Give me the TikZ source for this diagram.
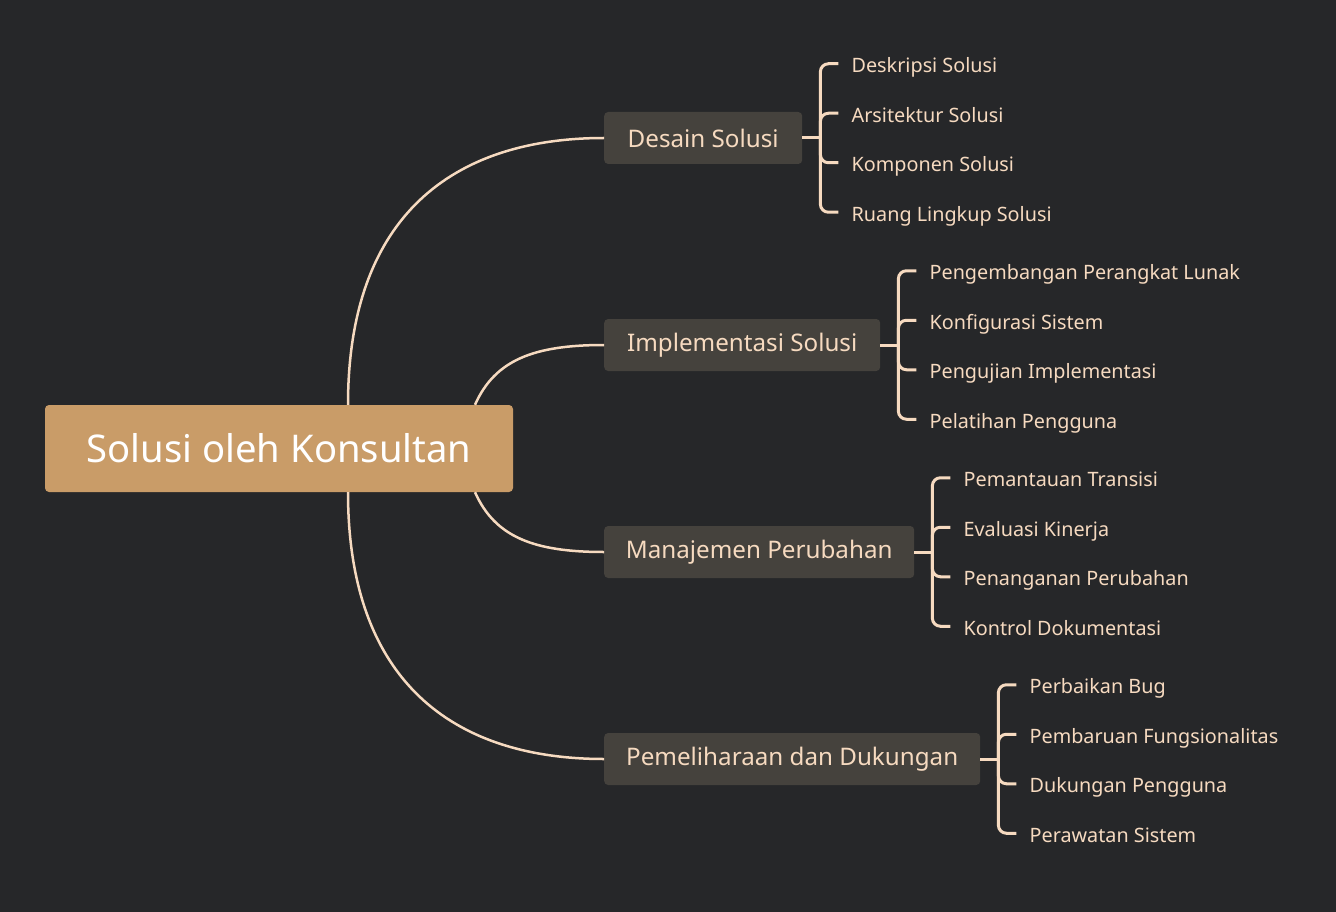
\documentclass[tikz,border=0pt]{standalone}
\usepackage{fontspec}
\setmainfont{Noto Sans}
\usetikzlibrary{positioning,calc}

\definecolor{bgdark}{HTML}{262729}
\definecolor{rootgold}{HTML}{C99C68}
\definecolor{topicgray}{HTML}{45423D}
\definecolor{peach}{HTML}{F6DAC0}

\begin{document}
\begin{tikzpicture}[
        x=1pt, y=-1pt,
        % styles of the map
        root_node/.style={fill=rootgold, rounded corners=4pt, minimum width=468pt, minimum height=87pt, text=white, font=\fontsize{38.2}{44}\selectfont},
        topic_node/.style={fill=topicgray, rounded corners=4pt, minimum height=52pt, inner xsep=19pt, anchor=west, text=peach, font=\fontsize{24.2}{28}\selectfont},
        leaf_node/.style={anchor=west, inner xsep=13pt, inner ysep=0pt, text height=20pt, text depth=2pt, text=peach, font=\fontsize{19.8}{24}\selectfont},
        branch/.style={draw=peach, line width=2.5pt},
        bracket/.style={draw=peach, line width=3pt, rounded corners=8pt}
    ]

    % background and bounding box
    \fill[bgdark] (0,0) rectangle (1336,912);
    \useasboundingbox (0,0) rectangle (1336,912);

    % ==========================================
    % 1. root and topics
    % ==========================================
    \node[root_node] (root) at (279,448.5) {Solusi oleh Konsultan};

    \node[topic_node, minimum width=198pt] (desain) at (604,138) {Desain Solusi};
    \node[topic_node, minimum width=276pt] (impl) at (604,345) {Implementasi Solusi};
    \node[topic_node, minimum width=310pt] (manaj) at (604,552) {Manajemen Perubahan};
    \node[topic_node, minimum width=376pt] (pemel) at (604,759) {Pemeliharaan dan Dukungan};

    % --- curved branches from the root ---
    \draw[branch] ([xshift=69pt]root.north) .. controls +(0,-190) and +(-150,0) .. (desain.west);
    \draw[branch] ([xshift=196pt]root.north) .. controls +(20,-45) and +(-70,0) .. (impl.west);
    \draw[branch] ([xshift=196pt]root.south) .. controls +(20,45) and +(-70,0) .. (manaj.west);
    \draw[branch] ([xshift=69pt]root.south) .. controls +(0,190) and +(-150,0) .. (pemel.west);

    % ==========================================
    % 2. leaves with brackets
    % ==========================================
    \coordinate (desain_j) at ([xshift=18pt]desain.east);
    \draw[bracket] (desain.east) -- (desain_j);
    \foreach \txt [count=\i] in {Deskripsi Solusi, Arsitektur Solusi, Komponen Solusi, Ruang Lingkup Solusi} {
        \node[leaf_node] (desain\i) at ([xshift=36pt, yshift={(2.5-\i)*49.5pt}]desain.east) {\txt};
        \draw[bracket] (desain_j) |- (desain\i.west);
    }

    \coordinate (impl_j) at ([xshift=18pt]impl.east);
    \draw[bracket] (impl.east) -- (impl_j);
    \foreach \txt [count=\i] in {Pengembangan Perangkat Lunak, Konfigurasi Sistem, Pengujian Implementasi, Pelatihan Pengguna} {
        \node[leaf_node] (impl\i) at ([xshift=36pt, yshift={(2.5-\i)*49.5pt}]impl.east) {\txt};
        \draw[bracket] (impl_j) |- (impl\i.west);
    }

    \coordinate (manaj_j) at ([xshift=18pt]manaj.east);
    \draw[bracket] (manaj.east) -- (manaj_j);
    \foreach \txt [count=\i] in {Pemantauan Transisi, Evaluasi Kinerja, Penanganan Perubahan, Kontrol Dokumentasi} {
        \node[leaf_node] (manaj\i) at ([xshift=36pt, yshift={(2.5-\i)*49.5pt}]manaj.east) {\txt};
        \draw[bracket] (manaj_j) |- (manaj\i.west);
    }

    \coordinate (pemel_j) at ([xshift=18pt]pemel.east);
    \draw[bracket] (pemel.east) -- (pemel_j);
    \foreach \txt [count=\i] in {Perbaikan Bug, Pembaruan Fungsionalitas, Dukungan Pengguna, Perawatan Sistem} {
        \node[leaf_node] (pemel\i) at ([xshift=36pt, yshift={(2.5-\i)*49.5pt}]pemel.east) {\txt};
        \draw[bracket] (pemel_j) |- (pemel\i.west);
    }

\end{tikzpicture}
\end{document}
